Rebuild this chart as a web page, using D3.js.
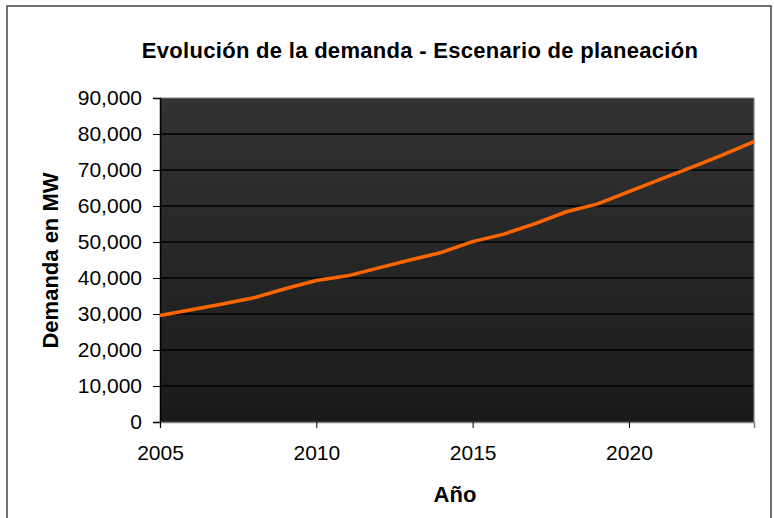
<!DOCTYPE html>
<html>
<head>
<meta charset="utf-8">
<script src="https://cdn.jsdelivr.net/npm/d3@7"></script>
<style>
html,body{margin:0;padding:0;background:#fff;}
svg{display:block;}
text{font-family:"Liberation Sans",Arial,sans-serif;fill:#000;}
</style>
</head>
<body>
<svg id="chart" width="774" height="518"></svg>
<script>
const years = [2005,2006,2007,2008,2009,2010,2011,2012,2013,2014,2015,2016,2017,2018,2019,2020,2021,2022,2023,2024];
const demand = [29600,31200,32800,34500,37000,39300,40600,42800,45000,47100,50100,52200,55100,58400,60600,64000,67400,70700,74200,77900];
const yTicks = [0,10000,20000,30000,40000,50000,60000,70000,80000,90000];
const xTicks = [2005,2010,2015,2020];
const title = "Evolución de la demanda - Escenario de planeación";
const xTitle = "Año";
const yTitle = "Demanda en MW";

const svg = d3.select("#chart");
const m = {left:160, top:98, right:754, bottom:422};

// outer frame
svg.append("rect").attr("x",7).attr("y",6).attr("width",764).attr("height",530)
  .attr("fill","none").attr("stroke","#444").attr("stroke-width",1.5);

const defs = svg.append("defs");
const g = defs.append("linearGradient").attr("id","bg").attr("x1",0).attr("y1",0).attr("x2",0).attr("y2",1);
g.append("stop").attr("offset","0%").attr("stop-color","#333333");
g.append("stop").attr("offset","100%").attr("stop-color","#1a1a1a");

const x = d3.scaleLinear().domain([2005,2024]).range([m.left,m.right]);
const y = d3.scaleLinear().domain([0,90000]).range([m.bottom,m.top]);

svg.append("rect").attr("x",m.left).attr("y",m.top).attr("width",m.right-m.left).attr("height",m.bottom-m.top)
  .attr("fill","url(#bg)");

// gridlines
svg.append("g").selectAll("line").data(yTicks.filter(d=>d>0 && d<90000)).join("line")
  .attr("x1",m.left).attr("x2",m.right).attr("y1",d=>y(d)).attr("y2",d=>y(d))
  .attr("stroke","#000").attr("stroke-width",1.5);

// plot border top & right
svg.append("line").attr("x1",m.left).attr("x2",m.right).attr("y1",m.top).attr("y2",m.top).attr("stroke","#808080").attr("stroke-width",1.2);
svg.append("line").attr("x1",m.right).attr("x2",m.right).attr("y1",m.top).attr("y2",m.bottom).attr("stroke","#808080").attr("stroke-width",1.2);

// y axis
const yAxis = svg.append("g").attr("transform",`translate(${m.left},0)`)
  .call(d3.axisLeft(y).tickValues(yTicks).tickSize(7).tickPadding(11).tickFormat(d3.format(",")));
yAxis.select(".domain").attr("stroke","#000").attr("stroke-width",1.5);
yAxis.selectAll(".tick line").attr("stroke","#000").attr("stroke-width",1);
yAxis.selectAll("text").attr("font-size","21px").attr("font-family","Liberation Sans, Arial, sans-serif").attr("fill","#000");

// x axis
const xAxis = svg.append("g").attr("transform",`translate(0,${m.bottom})`)
  .call(d3.axisBottom(x).tickValues(xTicks).tickSize(6).tickPadding(17).tickFormat(d3.format("d")));
xAxis.select(".domain").attr("stroke","#808080").attr("stroke-width",1.5);
xAxis.selectAll(".tick line").attr("stroke","#000").attr("stroke-width",1);
xAxis.selectAll("text").attr("font-size","21px").attr("font-family","Liberation Sans, Arial, sans-serif").attr("fill","#000");

// line
const line = d3.line().x((d,i)=>x(years[i])).y(d=>y(d));
svg.append("path").datum(demand).attr("d",line).attr("fill","none")
  .attr("stroke","#FF6600").attr("stroke-width",3.5).attr("stroke-linejoin","round");

// titles
svg.append("text").attr("x",420).attr("y",58).attr("text-anchor","middle")
  .attr("font-size","22px").attr("font-weight","bold").attr("letter-spacing","0.3px").text(title);
svg.append("text").attr("x",455).attr("y",502).attr("text-anchor","middle")
  .attr("font-size","22px").attr("font-weight","bold").text(xTitle);
svg.append("text").attr("transform","translate(58,260.5) rotate(-90)").attr("text-anchor","middle")
  .attr("font-size","22px").attr("font-weight","bold").text(yTitle);
</script>
</body>
</html>
